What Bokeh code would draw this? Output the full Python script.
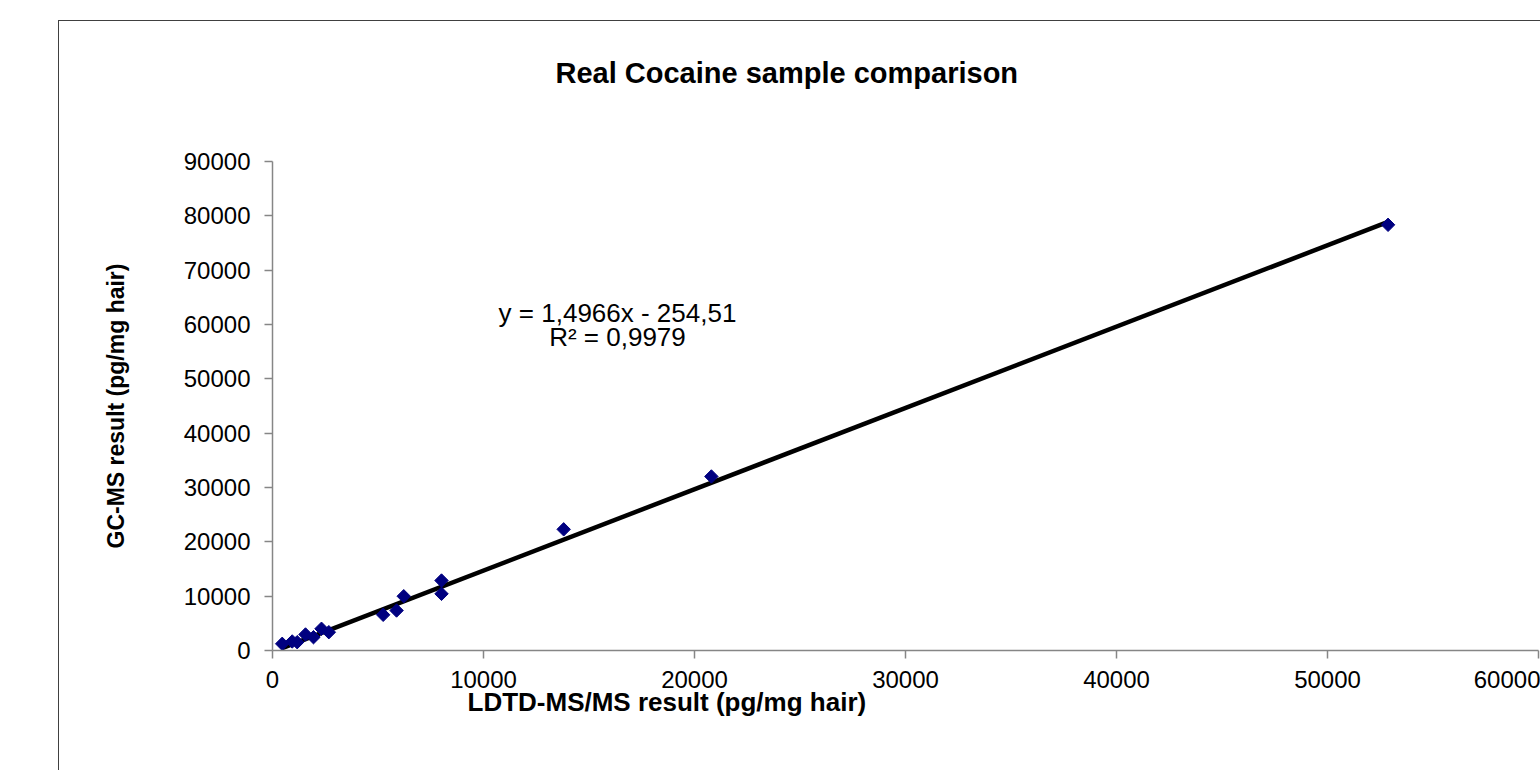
from bokeh.plotting import figure
from bokeh.models import Range1d, Label, ColumnDataSource, FixedTicker, InlineStyleSheet, Title
from bokeh.embed import file_html
from bokeh.resources import INLINE
import numpy as np

# Data
ldtd = [460, 934, 1170, 1564, 1943, 2322, 2670, 5245, 5880, 6220, 8010, 8010, 13800, 20800, 52870]
gcms = [1230, 1660, 1530, 2950, 2450, 4000, 3370, 6570, 7360, 9990, 12880, 10430, 22300, 32030, 78350]
slope = 1.4966
intercept = -254.51
x_ticks = [0, 10000, 20000, 30000, 40000, 50000, 60000]
y_ticks = [0, 10000, 20000, 30000, 40000, 50000, 60000, 70000, 80000, 90000]
title_text = "Real Cocaine sample comparison"
x_title = "LDTD-MS/MS result (pg/mg hair)"
y_title = "GC-MS result (pg/mg hair)"
eq_text = "y = 1,4966x - 254,51"
r2_text = "R\u00b2 = 0,9979"

W, H = 1540, 770
FL, FT, FR, FB = 272, 161, 1538, 650  # frame edges on the page
frame_css = """
:host::after {
  content: '';
  position: absolute;
  left: 58px; top: 20px; right: -10px; bottom: -10px;
  border: 1px solid #404040;
  pointer-events: none;
  z-index: 10;
}
"""
FONT = "Liberation Sans"

p = figure(width=W, height=H, output_backend="svg", toolbar_location=None,
           x_range=Range1d(0, 60000), y_range=Range1d(0, 90000),
           min_border_left=FL, min_border_right=W - FR, min_border_top=FT,
           min_border_bottom=H - FB,
           stylesheets=[InlineStyleSheet(css=frame_css)])
p.outline_line_color = None
p.grid.visible = False
p.background_fill_color = "white"
p.border_fill_color = "white"

# the built-in title sits outermost; a blank Title between it and the frame lifts it
p.title.text = title_text
p.title.align = "left"
p.title.offset = 555 - FL
p.title.standoff = 20
p.title.text_font = FONT
p.title.text_font_size = "29px"
p.title.text_font_style = "bold"
p.title.text_color = "black"
p.add_layout(Title(text=" ", text_font_size="10px", standoff=50), "above")

for ax in (p.xaxis[0], p.yaxis[0]):
    ax.axis_line_color = "#868686"
    ax.axis_line_width = 1.5
    ax.major_tick_line_color = "#868686"
    ax.major_tick_line_width = 1.5
    ax.minor_tick_line_color = None
    ax.major_tick_in = 0
    ax.major_tick_out = 8
    ax.major_label_text_font = FONT
    ax.major_label_text_font_size = "24px"
    ax.major_label_text_color = "black"
p.xaxis[0].ticker = FixedTicker(ticks=x_ticks)
p.yaxis[0].ticker = FixedTicker(ticks=y_ticks)
p.xaxis[0].major_label_standoff = 12
p.yaxis[0].major_label_standoff = 14

p.add_layout(Title(text=x_title, align="left", offset=467 - FL, standoff=-11,
                   text_font=FONT, text_font_size="26px", text_font_style="bold",
                   text_color="black"), "below")
p.add_layout(Title(text=y_title, align="center", standoff=104,
                   text_font=FONT, text_font_size="23px", text_font_style="bold",
                   text_color="black"), "left")

# trend line
xs = np.array([min(ldtd), max(ldtd)])
p.line(xs, slope * xs + intercept, line_color="black", line_width=4.5)

src = ColumnDataSource(dict(x=ldtd, y=gcms))
p.scatter("x", "y", source=src, marker="square", angle=np.pi / 4, size=9.5,
          fill_color="#000080", line_color="#000080")


def lab(text, px, py, size):
    # screen units are measured from the frame's lower-left corner
    p.add_layout(Label(x=px - FL, y=FB - py, x_units="screen", y_units="screen",
                       text=text, text_font=FONT, text_font_size=size,
                       text_align="center", text_baseline="middle",
                       text_color="black"))


lab(eq_text, 617, 312, "26px")
lab(r2_text, 617, 336, "26px")

open("out.html", "w").write(file_html(p, INLINE))
